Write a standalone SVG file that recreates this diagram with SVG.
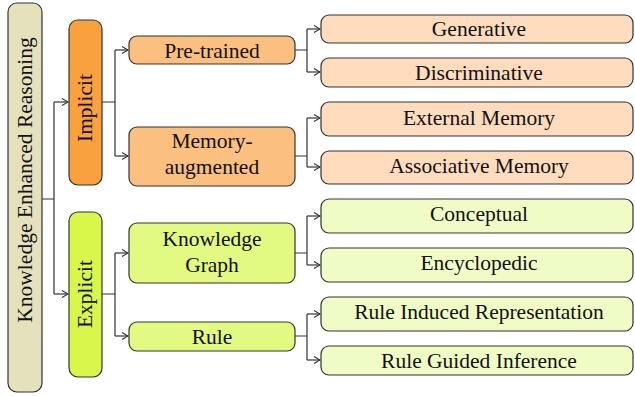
<svg xmlns="http://www.w3.org/2000/svg" width="635" height="396" viewBox="0 0 635 396">
<defs>
<marker id="arr" markerWidth="8" markerHeight="8" refX="7" refY="4" orient="auto" markerUnits="userSpaceOnUse">
<polyline points="1,0.5 7,4 1,7.5" fill="none" stroke="#333" stroke-width="1.1"/>
</marker>
<style>
text{font-family:"Liberation Serif","DejaVu Serif",serif;font-size:21.5px;fill:#111;text-anchor:middle}
.box{stroke:#333;stroke-width:1.2}
.root{fill:#e6e1bd}
.imp{fill:#f9a03f}
.exp{fill:#d8f74a}
.imp2{fill:#fbbf7f}
.exp2{fill:#e2fa82}
.imp3{fill:#fedcbd}
.exp3{fill:#f0fcc6}
.c{fill:none;stroke:#333;stroke-width:1.2}
.a{fill:none;stroke:#333;stroke-width:1.2;marker-end:url(#arr)}
</style>
</defs>
<g id="connectors">
<path class="c" d="M42,199 H54 M54,102 V294"/>
<path class="a" d="M54,102 H68"/>
<path class="a" d="M54,294 H68"/>
<path class="c" d="M102,102 H115 M115,50 V156"/>
<path class="a" d="M115,50 H128"/>
<path class="a" d="M115,156 H128"/>
<path class="c" d="M102,294 H115 M115,253 V336"/>
<path class="a" d="M115,253 H128"/>
<path class="a" d="M115,336 H128"/>
<path class="c" d="M295,50 H307 M307,29 V72"/>
<path class="a" d="M307,29 H320"/>
<path class="a" d="M307,72 H320"/>
<path class="c" d="M295,156 H307 M307,118 V167"/>
<path class="a" d="M307,118 H320"/>
<path class="a" d="M307,167 H320"/>
<path class="c" d="M295,253 H307 M307,216 V265"/>
<path class="a" d="M307,216 H320"/>
<path class="a" d="M307,265 H320"/>
<path class="c" d="M295,336 H307 M307,314 V360"/>
<path class="a" d="M307,314 H320"/>
<path class="a" d="M307,360 H320"/>
</g>
<g id="root">
<rect class="box root" x="8" y="3" width="34" height="389" rx="9"/>
<text transform="translate(31.5,180) rotate(-90)">Knowledge Enhanced Reasoning</text>
</g>
<g id="implicit">
<rect class="box imp" x="69" y="20" width="33" height="165" rx="9"/>
<text transform="translate(91.5,108) rotate(-90)">Implicit</text>
</g>
<g id="explicit">
<rect class="box exp" x="69" y="212" width="33" height="165" rx="9"/>
<text transform="translate(91.5,294) rotate(-90)">Explicit</text>
</g>
<g id="pretrained">
<rect class="box imp2" x="129" y="36" width="166" height="28" rx="8"/>
<text x="212" y="58">Pre-trained</text>
</g>
<g id="memory">
<rect class="box imp2" x="129" y="127" width="166" height="59" rx="8"/>
<text x="212" y="148">Memory-</text>
<text x="212" y="174">augmented</text>
</g>
<g id="kg">
<rect class="box exp2" x="129" y="223" width="166" height="60" rx="8"/>
<text x="212" y="246">Knowledge</text>
<text x="212" y="272">Graph</text>
</g>
<g id="rule">
<rect class="box exp2" x="129" y="322" width="166" height="29" rx="8"/>
<text x="212" y="344">Rule</text>
</g>
<g id="generative">
<rect class="box imp3" x="321" y="15" width="312" height="28" rx="8"/>
<text x="479" y="36">Generative</text>
</g>
<g id="discriminative">
<rect class="box imp3" x="321" y="58" width="312" height="29" rx="8"/>
<text x="479" y="80">Discriminative</text>
</g>
<g id="external">
<rect class="box imp3" x="321" y="102" width="312" height="34" rx="8"/>
<text x="479" y="125">External Memory</text>
</g>
<g id="associative">
<rect class="box imp3" x="321" y="151" width="312" height="33" rx="8"/>
<text x="479" y="173">Associative Memory</text>
</g>
<g id="conceptual">
<rect class="box exp3" x="321" y="199" width="312" height="34" rx="8"/>
<text x="479" y="221">Conceptual</text>
</g>
<g id="encyclopedic">
<rect class="box exp3" x="321" y="248" width="312" height="34" rx="8"/>
<text x="479" y="270">Encyclopedic</text>
</g>
<g id="ruleinduced">
<rect class="box exp3" x="321" y="297" width="312" height="34" rx="8"/>
<text x="479" y="319">Rule Induced Representation</text>
</g>
<g id="ruleguided">
<rect class="box exp3" x="321" y="346" width="312" height="29" rx="8"/>
<text x="479" y="368">Rule Guided Inference</text>
</g>
</svg>
